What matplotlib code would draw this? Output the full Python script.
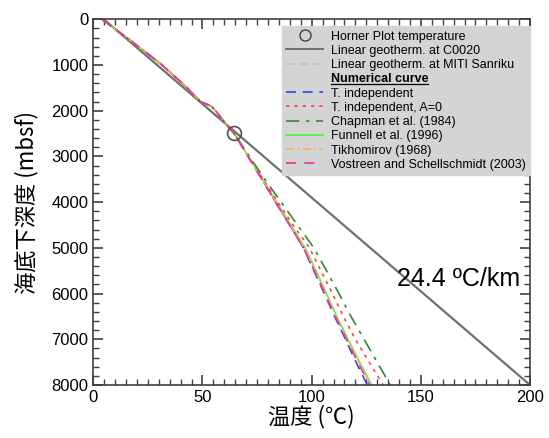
import matplotlib
matplotlib.use("Agg")
import matplotlib.pyplot as plt
from matplotlib.lines import Line2D
from matplotlib.ticker import MultipleLocator

plt.rcParams['font.family'] = ['Liberation Sans', 'DejaVu Sans']

# depth (mbsf) shared by the numerical curves
depth = [0, 500, 1000, 1500, 1800, 1900, 2000, 2250, 2500, 3000, 3500, 4000,
         4500, 5000, 5500, 6000, 6500, 7000, 7500, 8000]

# temperature (degC) for each model
funnell = [4, 18, 31.5, 43, 49, 54, 56, 60, 64.5, 71, 77.5, 84,
           90.5, 97, 102, 106.8, 111.5, 116.7, 122, 127.5]
t_indep = [4, 18, 31.5, 43, 49, 54, 56, 60, 64.5, 70.8, 77.2, 83.5,
           90, 96.2, 101, 105.8, 110.5, 115.5, 120.3, 125.5]
t_indep_a0 = [4, 18, 31.5, 43, 49, 54, 56, 60, 64.5, 71.2, 77.8, 84.5,
              91.5, 99, 104.2, 109.5, 114.5, 120, 126.3, 132.8]
chapman = [4, 18, 31.5, 43, 49, 54, 56, 60, 64.5, 71.5, 78.5, 86,
           93.5, 101, 106.8, 112.5, 118, 124, 130, 136]
tikhomirov = [4, 18, 31.5, 43, 49, 54, 56, 60, 64.5, 70.9, 77.3, 83.7,
              90.2, 96.6, 101.6, 106.4, 111.1, 116.3, 121.6, 127]
vostreen = [4, 18, 31.5, 43, 49, 54, 56, 60, 64.5, 70.9, 77.2, 83.4,
            89.8, 96.2, 101.2, 106, 110.8, 115.9, 121.1, 126.5]

# linear geotherm at C0020 (24.4 degC/km)
linear_depth = [0, 8000]
linear_temp = [4.8, 200]

# Horner plot temperature
horner_temp = [64.4]
horner_depth = [2490]

fig = plt.figure(figsize=(5.49, 4.38), dpi=100)
ax = fig.add_axes([0.170, 0.121, 0.7954, 0.835])

ax.plot(linear_temp, linear_depth, color='#707070', lw=1.6)
ax.plot(funnell, depth, color='#66ee55', lw=1.2)
ax.plot(t_indep, depth, color='#3344ee', lw=1.2, ls=(0, (6, 4)))
ax.plot(t_indep_a0, depth, color='#ff4444', lw=1.2, ls=(0, (2, 3)))
ax.plot(chapman, depth, color='#338833', lw=1.2, ls=(0, (8, 4, 2, 4)))
ax.plot(tikhomirov, depth, color='#ffaa55', lw=1.2, ls=(0, (5, 2, 1, 2)))
ax.plot(vostreen, depth, color='#ee3399', lw=1.2, ls=(0, (6, 5)))
ax.plot(horner_temp, horner_depth, 'o', ms=10, mfc='none', mec='#505050', mew=1.2)

ax.set_xlim(0, 200)
ax.set_ylim(8000, 0)
ax.xaxis.set_major_locator(MultipleLocator(50))
ax.xaxis.set_minor_locator(MultipleLocator(5))
ax.yaxis.set_major_locator(MultipleLocator(1000))
ax.yaxis.set_minor_locator(MultipleLocator(200))
ax.tick_params(which='both', direction='in', top=True, right=True,
               labelsize=12, color='#404040')
ax.tick_params(which='major', length=7, width=1.2)
ax.tick_params(which='minor', length=4, width=1)
for s in ax.spines.values():
    s.set_color('#404040')
    s.set_linewidth(1.2)

cjk = ['Noto Sans CJK JP', 'DejaVu Sans']
ax.set_xlabel('温度 (℃)', family=cjk, fontsize=16, labelpad=0)
ax.set_ylabel('海底下深度 (mbsf)', family=cjk, fontsize=16, labelpad=9)

ax.text(139, 5680, '24.4 ºC/km', fontsize=18, va='center', ha='left')

handles = [
    Line2D([], [], ls='none', marker='o', ms=8, mfc='none', mec='#404040'),
    Line2D([], [], color='#707070', lw=1.4),
    Line2D([], [], color='#c0c0c0', lw=1.2, ls=(0, (5, 3))),
    Line2D([], [], ls='none'),
    Line2D([], [], color='#3344ee', lw=1.2, ls=(0, (6, 4))),
    Line2D([], [], color='#ff4444', lw=1.2, ls=(0, (2, 3))),
    Line2D([], [], color='#338833', lw=1.2, ls=(0, (8, 4, 2, 4))),
    Line2D([], [], color='#66ee55', lw=1.4),
    Line2D([], [], color='#ffaa55', lw=1.2, ls=(0, (5, 2, 1, 2))),
    Line2D([], [], color='#ee3399', lw=1.2, ls=(0, (6, 5))),
]
labels = ['Horner Plot temperature', 'Linear geotherm. at C0020',
          'Linear geotherm. at MITI Sanriku', 'Numerical curve',
          'T. independent', 'T. independent, A=0', 'Chapman et al. (1984)',
          'Funnell et al. (1996)', 'Tikhomirov (1968)',
          'Vostreen and Schellschmidt (2003)']
leg = ax.legend(handles, labels, loc='upper right', bbox_to_anchor=(1.0, 0.981),
                fontsize=9, frameon=True, fancybox=False, handlelength=3.0,
                handletextpad=0.6, labelspacing=0.18, borderpad=0.35,
                borderaxespad=0.0)
leg.get_frame().set_facecolor('#d4d4d4')
leg.get_frame().set_edgecolor('#d4d4d4')
leg.get_frame().set_alpha(1)
header = leg.get_texts()[3]
header.set_fontweight('bold')

# underline the header
fig.canvas.draw()
bb = header.get_window_extent(fig.canvas.get_renderer())
inv = fig.transFigure.inverted()
(x0, y0), (x1, _) = inv.transform([(bb.x0, bb.y0 + 1), (bb.x1, bb.y0 + 1)])
fig.add_artist(Line2D([x0, x1], [y0, y0], color='black', lw=0.9,
                      transform=fig.transFigure))

fig.savefig('out.png', dpi=100)
